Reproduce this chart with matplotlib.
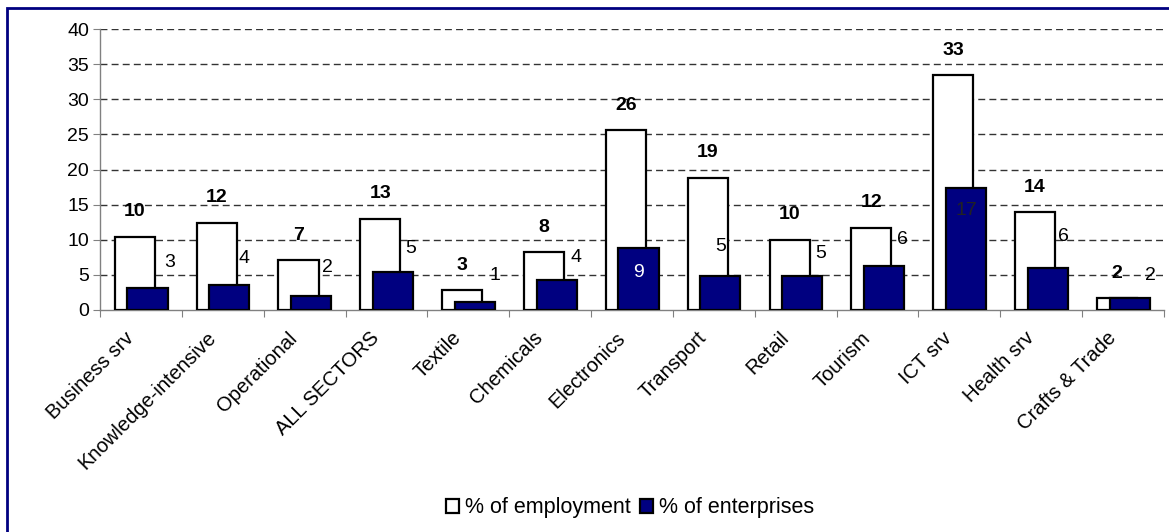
import numpy as np
import matplotlib
matplotlib.use('Agg')
import matplotlib.pyplot as plt
import matplotlib.patches as mpatches
from matplotlib.transforms import ScaledTranslation

plt.rcParams['font.family'] = ['Liberation Sans', 'DejaVu Sans']

sectors = ['Business srv', 'Knowledge-intensive', 'Operational', 'ALL SECTORS',
           'Textile', 'Chemicals', 'Electronics', 'Transport', 'Retail',
           'Tourism', 'ICT srv', 'Health srv', 'Crafts & Trade']
employment = [10.4, 12.4, 7.1, 13.0, 2.8, 8.2, 25.6, 18.8, 10.0, 11.7, 33.4, 13.9, 1.7]
enterprises = [3.1, 3.6, 2.0, 5.4, 1.1, 4.2, 8.8, 4.8, 4.8, 6.2, 17.3, 6.0, 1.7]

# label offsets for the enterprise series (px right, px up from bar top)
ent_dx = [22, 15, 16, 18, 20, 19, 0, 0, 18, 18, 0, 16, 21]
ent_dy = [26, 26, 28, 24, 27, 23, -24, 30, 23, 27, -22, 31, 23]
ent_col = ['#000', '#000', '#000', '#000', '#000', '#000', '#fff', '#000',
           '#000', '#000', '#222', '#000', '#000']

NAVY = '#000080'
PX = 0.72  # points per pixel at dpi 100
FS = 14

fig = plt.figure(figsize=(11.69, 5.32), dpi=100)
ax = fig.add_axes([100/1169, 1-310/532, 1064/1169, 281/532])

x = np.arange(len(sectors))
w = 0.49
b1 = ax.bar(x - 0.075, employment, w, color='white', edgecolor='black',
            linewidth=1.6, zorder=3, label='% of employment')
b2 = ax.bar(x + 0.08, enterprises, w, color=NAVY, edgecolor='black',
            linewidth=1.6, zorder=4, label='% of enterprises')

for i, v in enumerate(employment):
    ax.annotate(f'{v:.0f}', (x[i] - 0.075, v), xytext=(0, 25*PX),
                textcoords='offset points', ha='center', va='center',
                fontsize=FS, fontweight='bold', zorder=6)
for i, v in enumerate(enterprises):
    ax.annotate(f'{v:.0f}', (x[i] + 0.08, v), xytext=(ent_dx[i]*PX, ent_dy[i]*PX),
                textcoords='offset points', ha='center', va='center',
                fontsize=FS, color=ent_col[i], zorder=6)

ax.set_ylim(0, 40)
ax.set_xlim(-0.5, len(sectors) - 0.5)
ax.set_yticks(range(0, 41, 5))
for yv in range(5, 41, 5):
    ax.axhline(yv, color='#333333', lw=1.0, ls=(0, (5, 3)), zorder=1)

ax.set_xticks(np.arange(-0.5, len(sectors)), minor=False)
ax.set_xticklabels([])
ax.set_xticks(x, minor=True)
ax.set_xticklabels(sectors, minor=True, rotation=45, ha='right', va='center',
                   rotation_mode='anchor', fontsize=14.5)
ax.tick_params(axis='x', which='minor', length=0, pad=18)
ax.tick_params(axis='x', which='major', length=5, color='#808080', direction='out')
ax.tick_params(axis='y', length=5, color='#808080', labelsize=FS, pad=3)
shift = ScaledTranslation(-10/100, 0, fig.dpi_scale_trans)
for lab in ax.get_xticklabels(minor=True):
    lab.set_transform(lab.get_transform() + shift)

for s in ['top', 'right']:
    ax.spines[s].set_visible(False)
for s in ['left', 'bottom']:
    ax.spines[s].set_color('#808080')
    ax.spines[s].set_linewidth(1.0)

# outer chart border (right/bottom edges fall off the image)
fig.patches.append(mpatches.Rectangle((7/1169, -0.05), 1.2, 1.05 - 8/532,
                   transform=fig.transFigure, fill=False, edgecolor=NAVY,
                   linewidth=2.0, zorder=0))

fig.legend(handles=[b1, b2], loc='center', bbox_to_anchor=(630/1169, 1-508/532),
           ncol=2, frameon=False, fontsize=15.5, handlelength=0.6,
           handleheight=0.6, handletextpad=0.3, columnspacing=0.4)

fig.savefig('out.png', dpi=100)
